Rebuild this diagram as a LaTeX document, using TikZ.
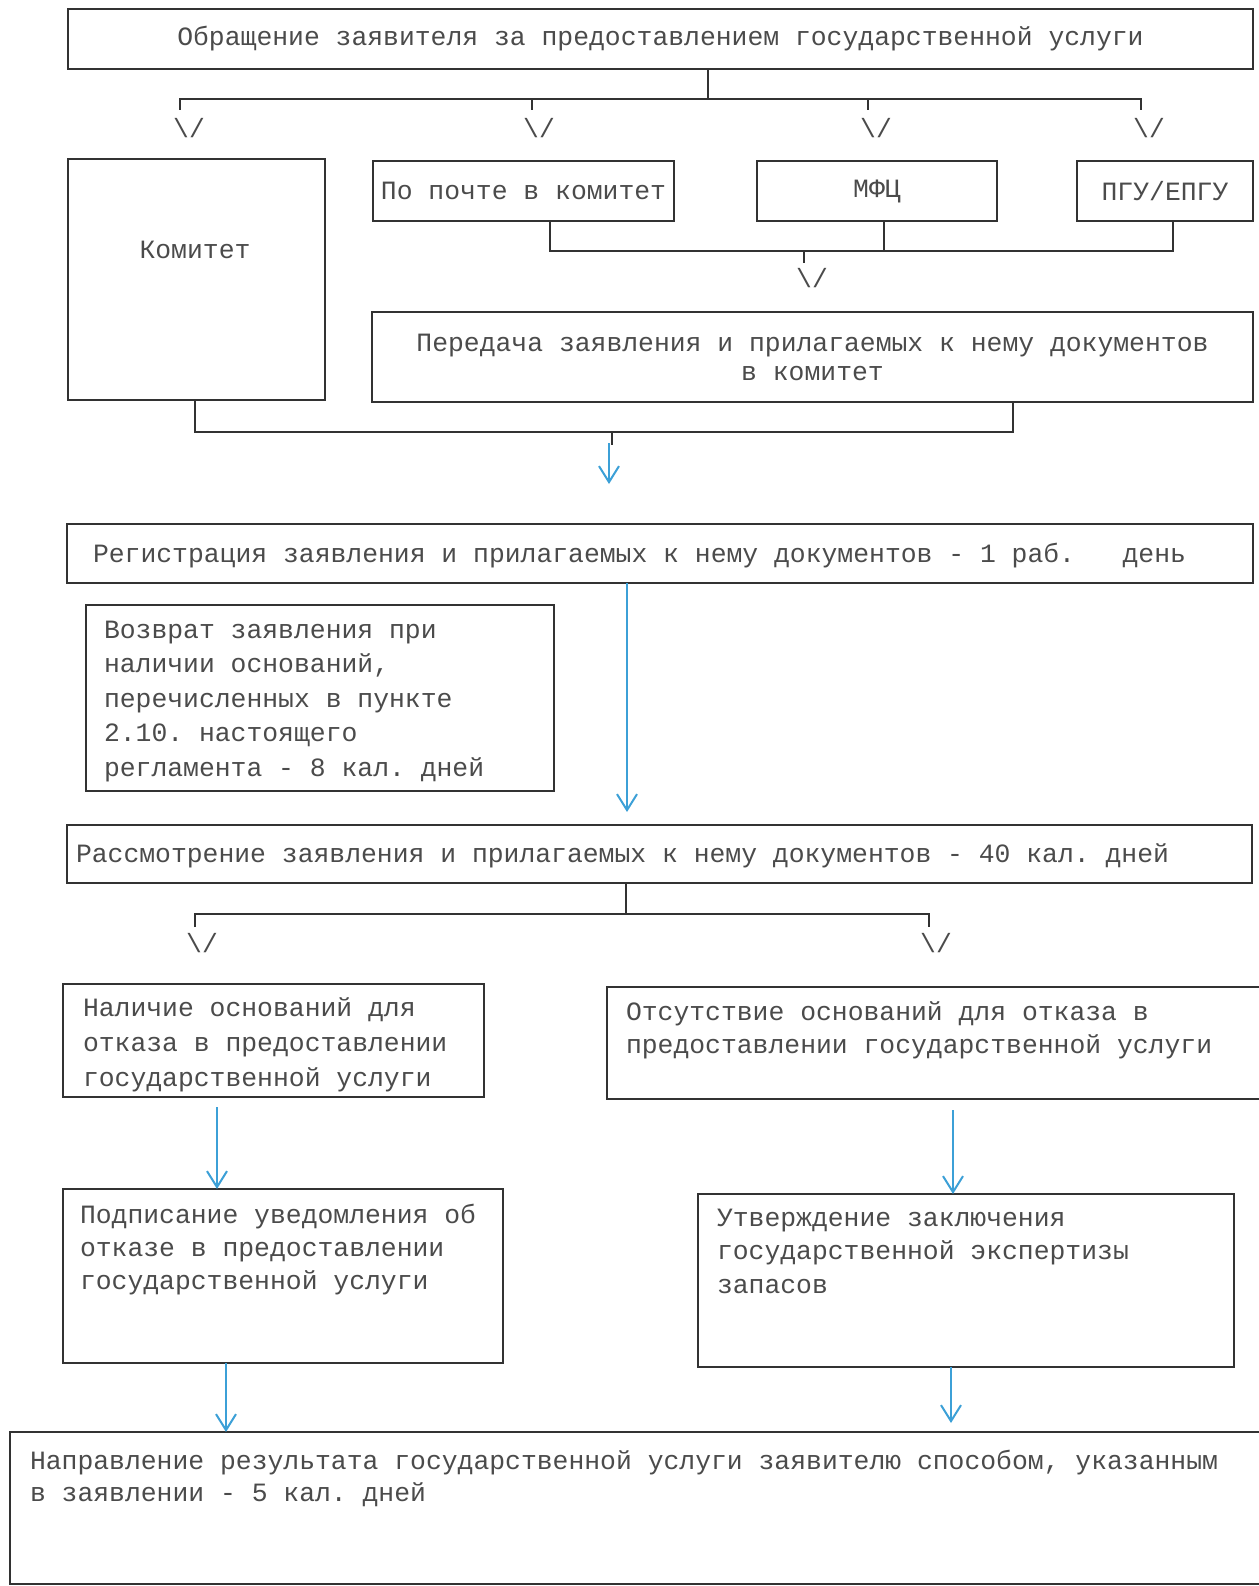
\documentclass[tikz,border=0pt]{standalone}
\usepackage{fontspec}
\setmainfont{Liberation Mono}
\usetikzlibrary{arrows.meta,calc}
\definecolor{ink}{RGB}{50,50,50}
\definecolor{txtc}{RGB}{75,75,75}
\definecolor{arr}{RGB}{60,160,215}
\frenchspacing
\tikzset{
  box/.style={draw=ink, line width=2.2pt, inner sep=0pt, outer sep=0pt, anchor=north west, rectangle, text=txtc, align=center},
  ln/.style={draw=ink, line width=2.2pt},
  barrow/.style={draw=arr, line width=2pt, -{Straight Barb[length=16pt,width=20pt,line width=2pt]}},
  vmark/.style={inner sep=0pt, outer sep=0pt, text=txtc},
  lbl/.style={inner sep=0pt, outer sep=0pt, anchor=north west, align=left, text=txtc},
  every node/.append style={font=\fontsize{26.4}{34.5}\selectfont}
}
\begin{document}
\begin{tikzpicture}[x=1pt,y=-1pt]
\useasboundingbox (0,0) rectangle (1258,1586);
\fill[white] (0,0) rectangle (1258,1586);

% boxes
\node[box, minimum width=1185pt, minimum height=60pt] (title) at (68,9) {Обращение заявителя за предоставлением государственной услуги};
\node[box, minimum width=257pt, minimum height=241pt] (komitet) at (68,159) {};
\node[lbl, anchor=center] (tkomitet) at (195,250) {Комитет};
\node[box, minimum width=301pt, minimum height=60pt] (pochta) at (373,161) {По почте в комитет};
\node[box, minimum width=240pt, minimum height=60pt] (mfc) at (757,161) {МФЦ};
\node[box, minimum width=176pt, minimum height=60pt] (pgu) at (1077,161) {ПГУ/ЕПГУ};
\node[box, minimum width=881pt, minimum height=90pt, font=\fontsize{26.4}{29}\selectfont] (peredacha) at (372,312) {Передача заявления и прилагаемых к нему документов\\в комитет};

\node[box, minimum width=1186pt, minimum height=59pt] (reg) at (67,524) {};
\node[lbl] (treg) at (93,537.85) {\strut Регистрация заявления и прилагаемых к нему документов - 1 раб.\ \ \ день};

\node[box, minimum width=468pt, minimum height=186pt] (vozvrat) at (86,605) {};
\node[lbl] (tvozvrat) at (104,613.85) {\strut Возврат заявления при\\наличии оснований,\\перечисленных в пункте\\2.10. настоящего\\регламента - 8 кал. дней};

\node[box, minimum width=1185pt, minimum height=58pt] (rassm) at (67,825) {};
\node[lbl] (trassm) at (76,837.85) {\strut Рассмотрение заявления и прилагаемых к нему документов - 40 кал. дней};

\node[box, minimum width=421pt, minimum height=113pt] (nalichie) at (63,984) {};
\node[lbl, font=\fontsize{26.4}{35}\selectfont] (tnalichie) at (83,991.5) {\strut Наличие оснований для\\отказа в предоставлении\\государственной услуги};

\node[box, minimum width=660pt, minimum height=112pt] (otsut) at (607,987) {};
\node[lbl, font=\fontsize{26.4}{33}\selectfont] (totsut) at (626,996.9) {\strut Отсутствие оснований для отказа в\\предоставлении государственной услуги};

\node[box, minimum width=440pt, minimum height=174pt] (podpis) at (63,1189) {};
\node[lbl, font=\fontsize{26.4}{33}\selectfont] (tpodpis) at (80,1199.9) {\strut Подписание уведомления об\\отказе в предоставлении\\государственной услуги};

\node[box, minimum width=536pt, minimum height=173pt] (utv) at (698,1194) {};
\node[lbl, font=\fontsize{26.4}{33.5}\selectfont] (tutv) at (717,1202.55) {\strut Утверждение заключения\\государственной экспертизы\\запасов};

\node[box, minimum width=1262pt, minimum height=152pt] (naprav) at (10,1432) {};
\node[lbl, font=\fontsize{26.4}{32}\selectfont] (tnaprav) at (30,1446.6) {\strut Направление результата государственной услуги заявителю способом, указанным\\в заявлении - 5 кал. дней};

% top bus
\coordinate (b1) at (708,99);
\coordinate (m1) at (180,110);
\coordinate (m2) at (532,110);
\coordinate (m3) at (868,110);
\coordinate (m4) at (1141,110);
\draw[ln] (b1 |- title.south) -- (b1);
\draw[ln] (m1) |- (b1) -| (m4);
\draw[ln] (m2) -- (m2 |- b1);
\draw[ln] (m3) -- (m3 |- b1);
\node[vmark] (v1) at (189,128) {\textbackslash/};
\node[vmark] (v2) at (539,128) {\textbackslash/};
\node[vmark] (v3) at (876,128) {\textbackslash/};
\node[vmark] (v4) at (1149,128) {\textbackslash/};

% second bus
\coordinate (c1) at (550,251);
\coordinate (c2) at (884,251);
\coordinate (c3) at (1173,251);
\coordinate (b2) at (804,251);
\coordinate (m5) at (804,263);
\draw[ln] (c1 |- pochta.south) -- (c1) -- (c3) -- (c3 |- pgu.south);
\draw[ln] (c2 |- mfc.south) -- (c2);
\draw[ln] (b2) -- (m5);
\node[vmark] (v5) at (812,278) {\textbackslash/};

% third bus
\coordinate (e1) at (195,432);
\coordinate (e2) at (1013,432);
\coordinate (e3) at (612,432);
\coordinate (e4) at (612,445);
\coordinate (f0) at (609,443);
\coordinate (f1) at (609,484);
\draw[ln] (e1 |- komitet.south) -- (e1) -- (e2) -- (e2 |- peredacha.south);
\draw[ln, line width=1.8pt] (e3) -- (e4);
\draw[barrow] (f0) -- (f1);

% reg -> rassm
\coordinate (g1) at (627,812);
\draw[barrow] (g1 |- reg.south) -- (g1);

% rassm bus
\coordinate (h0) at (626,914);
\coordinate (h1) at (195,927);
\coordinate (h2) at (929,927);
\draw[ln] (h0 |- rassm.south) -- (h0);
\draw[ln] (h1) |- (h0) -| (h2);
\node[vmark] (v6) at (202,943) {\textbackslash/};
\node[vmark] (v7) at (936,943) {\textbackslash/};

% blue arrows lower
\coordinate (k1) at (217,1107);
\coordinate (k2) at (953,1110);
\coordinate (k3) at (226,1363);
\coordinate (k4) at (951,1367);
\coordinate (k5) at (951,1423);
\draw[barrow] (k1) -- (k1 |- podpis.north);
\draw[barrow] (k2) -- (k2 |- utv.north);
\draw[barrow] (k3 |- podpis.south) -- (k3 |- naprav.north);
\draw[barrow] (k4 |- utv.south) -- (k5);
\end{tikzpicture}
\end{document}
